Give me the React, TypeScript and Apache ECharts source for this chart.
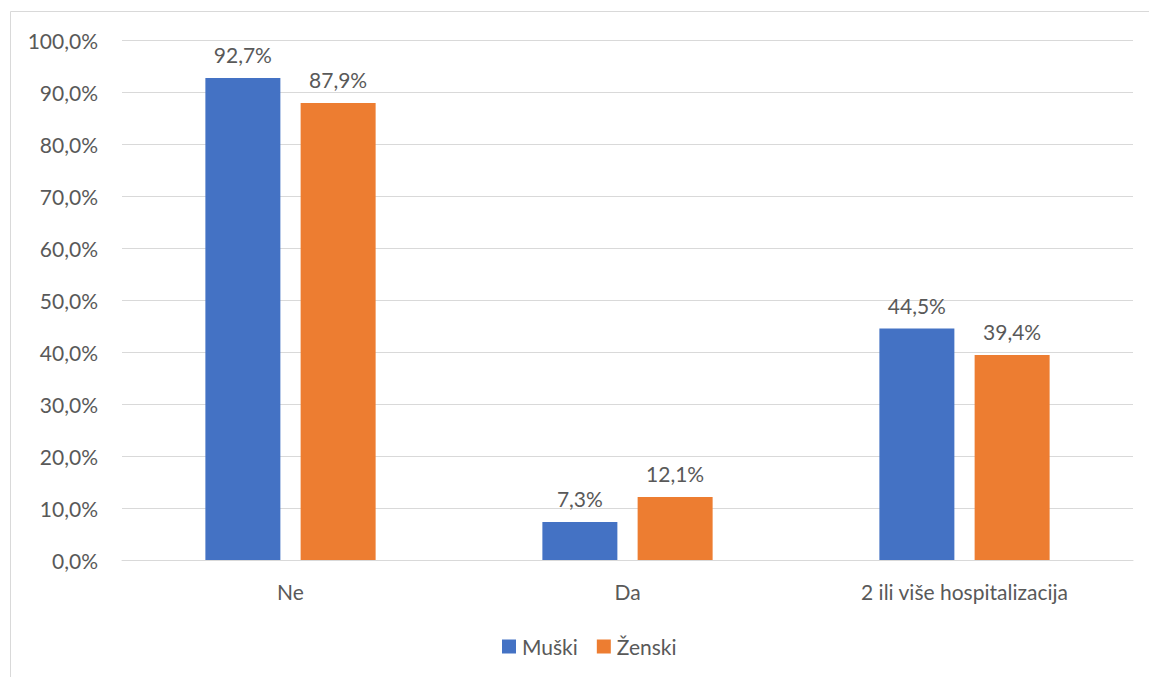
import React, { useEffect, useRef } from "react";
import * as echarts from "echarts";

const categories = ["Ne", "Da", "2 ili više hospitalizacija"];
const muski = [92.7, 7.3, 44.5];
const zenski = [87.9, 12.1, 39.4];
const seriesNames = ["Muški", "Ženski"];

const fmt = (v: number) => v.toFixed(1).replace(".", ",") + "%";
const FONT = "Lato, 'Open Sans', sans-serif";
const TXT = "#595959";
const FS = 21;

export default function App() {
  const ref = useRef<HTMLDivElement>(null);
  useEffect(() => {
    document.body.style.margin = "0";
    const chart = echarts.init(ref.current!, null, { renderer: "svg" });
    const label = {
      show: true,
      position: "top" as const,
      distance: 13,
      color: TXT,
      fontSize: FS,
      fontFamily: FONT,
      formatter: (p: any) => fmt(p.value),
    };
    chart.setOption({
      animation: false,
      textStyle: { fontFamily: FONT },
      graphic: [
        {
          type: "rect",
          shape: { x: 10.5, y: 11.5, width: 1300, height: 800 },
          style: { fill: "none", stroke: "#d9d9d9", lineWidth: 1 },
          silent: true,
        },
      ],
      grid: { left: 122, right: 16, top: 40, bottom: 117, containLabel: false },
      legend: {
        bottom: 20,
        left: 502,
        itemWidth: 14,
        itemHeight: 14,
        itemGap: 19,
        icon: "rect",
        padding: 0,
        textStyle: { color: TXT, fontSize: FS, fontFamily: FONT, padding: [0, 0, 0, 1] },
        data: seriesNames,
      },
      xAxis: {
        type: "category",
        data: categories,
        axisLine: { lineStyle: { color: "#d9d9d9", width: 1 } },
        axisTick: { show: false },
        axisLabel: { color: TXT, fontSize: FS, fontFamily: FONT, margin: 21 },
      },
      yAxis: {
        type: "value",
        min: 0,
        max: 100,
        interval: 10,
        axisLine: { show: false },
        axisTick: { show: false },
        splitLine: { lineStyle: { color: "#d9d9d9", width: 1 } },
        axisLabel: {
          color: TXT,
          fontSize: FS,
          fontFamily: FONT,
          margin: 24,
          formatter: (v: number) => fmt(v),
        },
      },
      series: [
        {
          name: seriesNames[0],
          type: "bar",
          data: muski,
          barWidth: 75,
          barGap: "27%",
          itemStyle: { color: "#4472c4" },
          label,
        },
        {
          name: seriesNames[1],
          type: "bar",
          data: zenski,
          barWidth: 75,
          itemStyle: { color: "#ed7d31" },
          label,
        },
      ],
    });
    return () => chart.dispose();
  }, []);
  return <div ref={ref} style={{ width: 1149, height: 677 }} />;
}
